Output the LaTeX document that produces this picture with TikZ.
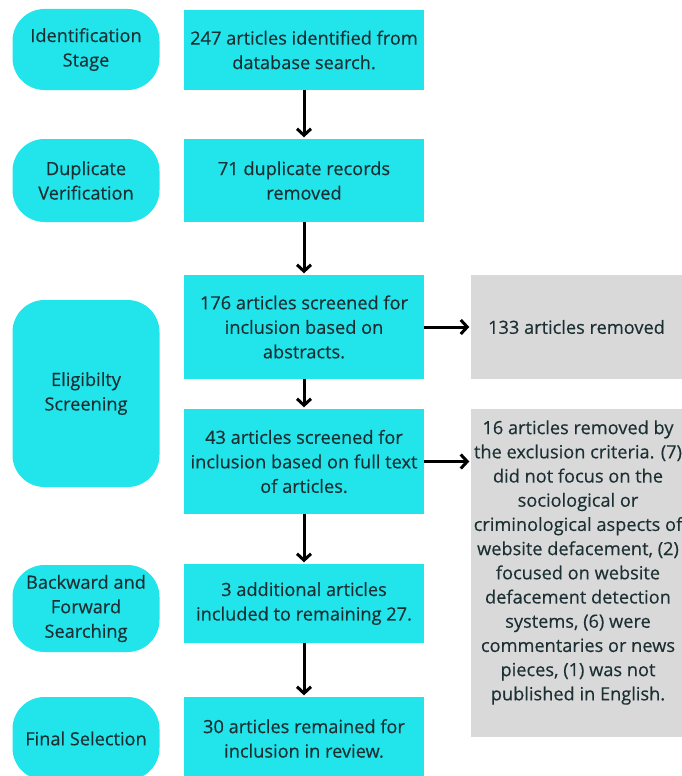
\documentclass[tikz,border=0pt]{standalone}
\usepackage{fontspec}
\setmainfont{Open Sans}[FakeBold=0.35]
\usepackage{tikz}
\usetikzlibrary{arrows.meta,calc,positioning}
\definecolor{boxcyan}{RGB}{33,229,235}
\definecolor{boxgrey}{RGB}{217,217,217}
\definecolor{inkdark}{RGB}{28,48,52}

\begin{document}
\begin{tikzpicture}[x=1pt,y=-1pt,
  every node/.style={font=\fontsize{18.2}{24.5}\selectfont,text=inkdark,align=center,inner sep=0pt},
  stage/.style={fill=boxcyan,rounded corners=32pt,minimum width=147pt},
  cbox/.style={fill=boxcyan,minimum width=240pt},
  gbox/.style={fill=boxgrey,minimum width=211pt},
  flow/.style={line width=3pt,black,-{Straight Barb[length=6.5pt,width=14pt,line width=3pt]},shorten >=1.5pt}]
\useasboundingbox (0,0) rectangle (682,776);
\clip (0,0) rectangle (682,776);
% stages on the left
\node[stage,minimum height=81pt] (id) at (86,49.5) {Identification\\Stage};
\node[stage,minimum height=83pt] (dup) at (86,180.5) {Duplicate\\Verification};
\node[stage,minimum height=187pt] (elig) at (86,393.5) {Eligibilty\\Screening};
\node[stage,minimum height=87pt] (back) at (86,608.5) {Backward and\\Forward\\Searching};
\node[stage,minimum height=83pt] (final) at (86,738.5) {Final Selection};
% main flow
\node[cbox,minimum height=80pt] (A) at (304,50) {247 articles identified from\\database search.};
\node[cbox,minimum height=83pt] (B) at (304,180.5) {71 duplicate records\\removed};
\node[cbox,minimum height=104pt] (C) at (304,327) {176 articles screened for\\inclusion based on\\abstracts.};
\node[cbox,minimum height=105pt] (D) at (304,461.5) {43 articles screened for\\inclusion based on full text\\of articles.};
\node[cbox,minimum height=79pt] (E) at (304,603.5) {3 additional articles\\included to remaining 27.};
\node[cbox,minimum height=83pt] (F) at (304,738.5) {30 articles remained for\\inclusion in review.};
% removed records
\node[gbox,minimum height=104pt] (R1) at (576.5,327) {133 articles removed};
\node[gbox,minimum height=328pt] (R2) at (576.5,573) {};
\node[font=\fontsize{18.2}{24.2}\selectfont] (R2text) at ($(R2.center)+(1.5,-10.5)$) {16 articles removed by\\the exclusion criteria. (7)\\did not focus on the\\sociological or\\criminological aspects of\\website defacement, (2)\\focused on website\\defacement detection\\systems, (6) were\\commentaries or news\\pieces, (1) was not\\published in English.};
\draw[flow] (A) -- (B);
\draw[flow] (B) -- (C);
\draw[flow] (C) -- (D);
\draw[flow] (D) -- (E);
\draw[flow] (E) -- (F);
\draw[flow] (C.east) -- (R1);
\draw[flow] (D.east) -- (D.east -| R2.west);
\end{tikzpicture}
\end{document}
